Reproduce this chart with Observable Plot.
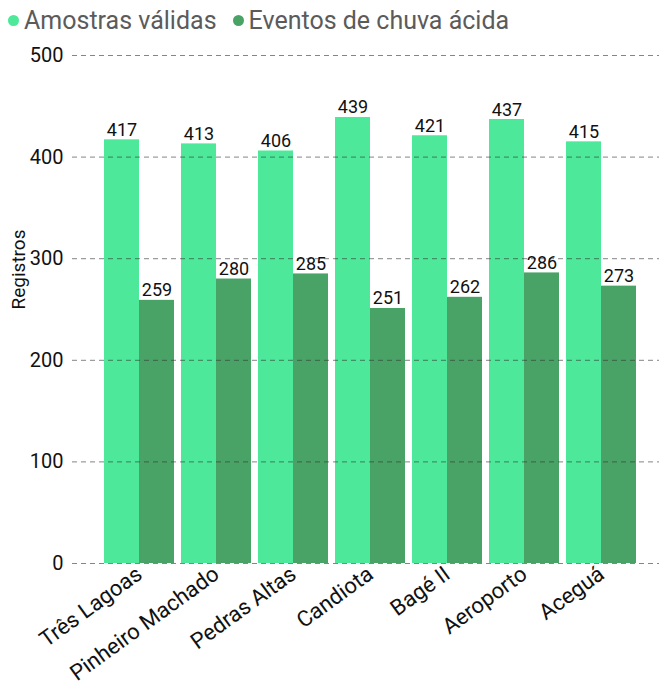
<!DOCTYPE html>
<html><head><meta charset="utf-8">
<script src="https://cdn.jsdelivr.net/npm/d3@7"></script>
<script src="https://cdn.jsdelivr.net/npm/@observablehq/plot@0.6"></script>
<style>
body{margin:0;background:#fff;font-family:Roboto,sans-serif;}
#legend{height:40px;display:flex;align-items:center;padding-left:8px;font-size:25px;color:#5b5b5b;box-sizing:border-box;}
.item{display:flex;align-items:center;margin-right:16px;}
.dot{width:11px;height:11px;border-radius:50%;margin-right:5px;}
</style></head><body>
<div id="legend"></div>
<div id="chart"></div>
<script>
const stations = ["Três Lagoas","Pinheiro Machado","Pedras Altas","Candiota","Bagé II","Aeroporto","Aceguá"];
const validas = [417,413,406,439,421,437,415];
const acidas = [259,280,285,251,262,286,273];
const seriesNames = ["Amostras válidas","Eventos de chuva ácida"];
const colors = ["#4de899","#4aa366"];
const yTicks = [0,100,200,300,400,500];

const rowsA = stations.map((s,i)=>({station:s, series:seriesNames[0], value:validas[i]}));
const rowsB = stations.map((s,i)=>({station:s, series:seriesNames[1], value:acidas[i]}));

const legend = document.getElementById("legend");
seriesNames.forEach((n,i)=>{
  const it = document.createElement("div"); it.className="item";
  const d = document.createElement("span"); d.className="dot"; d.style.background=colors[i];
  const t = document.createElement("span"); t.textContent=n;
  it.appendChild(d); it.appendChild(t); legend.appendChild(it);
});

const half = 35;
const chart = Plot.plot({
  width: 662,
  height: 648,
  marginTop: 15,
  marginBottom: 125,
  marginLeft: 72,
  marginRight: 3,
  style: {fontSize: "20px", fontFamily: "Roboto, sans-serif", color: "#111", background: "#fff"},
  x: {domain: stations, paddingInner: 0.095, paddingOuter: 0.343, align: 0.585, tickSize: 0, tickRotate: -36, tickPadding: 8, label: null},
  y: {domain: [0,500], ticks: yTicks, tickSize: 0, tickPadding: 9, label: null},
  color: {domain: seriesNames, range: colors},
  marks: [
    Plot.barY(rowsA, {x:"station", y:"value", fill:"series", insetRight: half}),
    Plot.barY(rowsB, {x:"station", y:"value", fill:"series", insetLeft: half}),
    Plot.ruleY(yTicks, {stroke:"#333", strokeOpacity:0.6, strokeDasharray:"5,4", strokeWidth:1}),
    Plot.text(rowsA, {x:"station", y:"value", text:d=>String(d.value), dx:-half/2, dy:-4, lineAnchor:"bottom", fontSize:18, fill:"#111"}),
    Plot.text(rowsB, {x:"station", y:"value", text:d=>String(d.value), dx:half/2, dy:-4, lineAnchor:"bottom", fontSize:18, fill:"#111"}),
    Plot.text(["Registros"], {frameAnchor:"left", text:d=>d, rotate:-90, dx:-54, fontSize:19, fill:"#111"})
  ]
});
chart.querySelectorAll("text").forEach(t => {
  if (stations.includes(t.textContent)) {
    t.setAttribute("font-size", "22");
    t.style.fontSize = "22px";
  }
});
document.getElementById("chart").appendChild(chart);
</script>
</body></html>
